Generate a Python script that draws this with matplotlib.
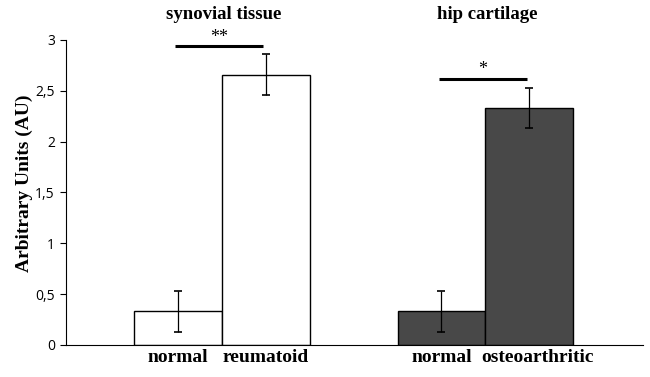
import matplotlib.pyplot as plt
import matplotlib.transforms as mtransforms

# data
groups = ['synovial tissue', 'hip cartilage']
labels = ['normal', 'reumatoid', 'normal', 'osteoarthritic']
positions = [1, 2, 4, 5]
values = [0.33, 2.66, 0.33, 2.33]
errors = [0.20, 0.20, 0.20, 0.20]
colors = ['white', 'white', '#484848', '#484848']
sig_pairs = [(1, 2), (4, 5)]
sig_heights = [2.94, 2.62]
sig_marks = ['**', '*']

fig = plt.figure(figsize=(6.5, 3.77), dpi=100)
ax = fig.add_axes([0.1015, 0.0849, 0.8875, 0.8091])

ax.bar(positions, values, width=1.0, color=colors, edgecolor='black', linewidth=1.0)
ax.errorbar(positions, values, yerr=errors, fmt='none', ecolor='black',
            elinewidth=0.9, capsize=3, capthick=1.2)

# significance bars
for (a, b), h, m in zip(sig_pairs, sig_heights, sig_marks):
    ax.plot([a - 0.03, b - 0.03], [h, h], color='black', linewidth=2.2, solid_capstyle='butt')
    ax.text((a + b) / 2 - 0.03, h + 0.005, m, ha='center', va='bottom',
            fontsize=13, family='Liberation Serif')

# group titles
for (a, b), g in zip(sig_pairs, groups):
    ax.text((a + b) / 2 + 0.02, 1.082, g, transform=ax.get_xaxis_transform(),
            ha='center', va='center', fontsize=13.5, fontweight='bold', family='Liberation Serif')

ax.set_xlim(-0.27, 6.29)
ax.set_ylim(0, 3)
ax.set_yticks([0, 0.5, 1, 1.5, 2, 2.5, 3])
ax.set_yticklabels(['0', '0,5', '1', '1,5', '2', '2,5', '3'], fontsize=10, family='Open Sans')
ax.set_xticks(positions)
ax.set_xticklabels(labels, fontsize=14, fontweight='bold', family='Liberation Serif')
ax.tick_params(axis='x', length=0, pad=3)
ax.tick_params(axis='y', length=4, width=0.8, pad=4)
ax.set_ylabel('Arbitrary Units (AU)', fontsize=14, fontweight='bold',
              family='Liberation Serif')
ax.yaxis.set_label_coords(-0.058, 0.53)

# nudge the last label to the right, as in the original
last = ax.get_xticklabels()[-1]
last.set_transform(last.get_transform() + mtransforms.ScaledTranslation(8 / 100, 0, fig.dpi_scale_trans))

ax.spines['top'].set_visible(False)
ax.spines['right'].set_visible(False)

fig.savefig('out.png', dpi=100)
